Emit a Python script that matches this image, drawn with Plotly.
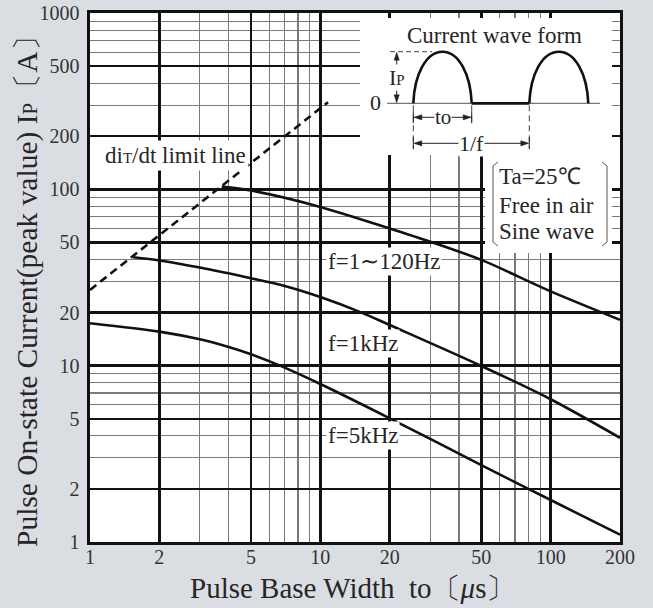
import plotly.graph_objects as go

# ---------------- data ----------------
x_ticks = [1, 2, 5, 10, 20, 50, 100, 200]
x_tick_text = ["1", "2", "5", "10", "20", "50", "100", "200"]
x_minor = [3, 4, 6, 7, 8, 9, 30, 40, 60, 70, 80, 90]
y_ticks = [1, 2, 5, 10, 20, 50, 100, 200, 500, 1000]
y_tick_text = ["1", "2", "5", "10", "20", "50", "100", "200", "500", "1000"]
y_minor = [3, 4, 6, 7, 8, 9, 30, 40, 60, 70, 80, 90, 300, 400, 600, 700, 800, 900]

to_120hz = [3.73, 5, 10, 20, 30, 50, 100, 200]
ip_120hz = [103.6, 98.4, 79.5, 60.0, 50.5, 39.8, 26.4, 18.2]

to_1khz = [1.54, 2, 3, 5, 7, 10, 15.1, 20, 50, 100, 200]
ip_1khz = [41.2, 39.5, 36.0, 31.3, 28.3, 24.5, 20.0, 17.0, 9.96, 6.45, 3.9]

to_5khz = [1, 2, 3, 4, 5, 6.68, 10, 20, 50, 80, 100, 200]
ip_5khz = [17.4, 15.6, 14.1, 12.75, 11.6, 10.0, 7.87, 5.03, 2.73, 2.0, 1.73, 1.1]

to_limit = [1, 10.8]
ip_limit = [26.9, 312]

# ---------------- layout geometry ----------------
FW, FH = 653, 608
L, R, T, B = 90, 620, 13, 542          # plot area in window pixels
W, H = R - L, B - T
SERIF = "Liberation Serif, Times New Roman, serif"
TXT = "#262626"


def px(x):
    return (x - L) / W


def py(y):
    return (B - y) / H


def P(x, y):
    return f"{px(x):.5f},{py(y):.5f}"


fig = go.Figure()

line_style = dict(color="#111111", width=2.6)
for xs, ys in [(to_120hz, ip_120hz), (to_1khz, ip_1khz), (to_5khz, ip_5khz)]:
    fig.add_trace(go.Scatter(x=xs, y=ys, mode="lines",
                             line=dict(**line_style, shape="spline", smoothing=0.8),
                             hoverinfo="skip", showlegend=False))
fig.add_trace(go.Scatter(x=to_limit, y=ip_limit, mode="lines",
                         line=dict(color="#111111", width=2.6, dash="8px,5px"),
                         hoverinfo="skip", showlegend=False))

shapes = []


def seg(x0, y0, x1, y1, width=1.0, color="#222222", dash=None):
    ln = dict(color=color, width=width)
    if dash:
        ln["dash"] = dash
    shapes.append(dict(type="line", xref="paper", yref="paper",
                       x0=px(x0), y0=py(y0), x1=px(x1), y1=py(y1),
                       line=ln, layer="above"))


def path(d, width=1.0, color="#222222", fill=None):
    s = dict(type="path", xref="paper", yref="paper", path=d,
             line=dict(color=color, width=width), layer="above")
    if fill:
        s["fillcolor"] = fill
    shapes.append(s)


def rect_white(x0, y0, x1, y1):
    shapes.append(dict(type="rect", xref="paper", yref="paper",
                       x0=px(x0), y0=py(y1), x1=px(x1), y1=py(y0),
                       fillcolor="white", line=dict(width=0), layer="above"))


def arrow_h(x, y, direction):
    d = f"M{P(x, y)} L{P(x - direction * 8, y - 2.6)} L{P(x - direction * 8, y + 2.6)} Z"
    path(d, width=0.5, fill="#222222")


def arrow_v(x, y, direction):
    d = f"M{P(x, y)} L{P(x - 2.6, y - direction * 8)} L{P(x + 2.6, y - direction * 8)} Z"
    path(d, width=0.5, fill="#222222")


def hump(x0, x1, yb, yp):
    xc = (x0 + x1) / 2
    a = (x1 - x0) / 2
    h = yb - yp
    k = 0.56
    return (f"M{P(x0, yb)} C{P(x0 + 0.04 * a, yb - k * h)} {P(xc - k * a, yp)} {P(xc, yp)} "
            f"C{P(xc + k * a, yp)} {P(x1 - 0.04 * a, yb - k * h)} {P(x1, yb)}")


# white panels for inset and condition box
rect_white(360, 18, 612, 155)
rect_white(485, 155, 612, 253)

# current wave form inset
base_y, peak_y = 103.3, 51.7
h1a, h1b, h2a, h2b = 413.3, 471.7, 529.3, 588.3
seg(387, base_y, 600, base_y, width=1.0, color="#555555")
path(hump(h1a, h1b, base_y, peak_y), width=2.6, color="#111111")
path(hump(h2a, h2b, base_y, peak_y), width=2.6, color="#111111")
seg(h1b, base_y, h2a, base_y, width=2.8, color="#111111")
seg(390, peak_y, 432, peak_y, width=1.0, color="#444444", dash="5px,3px")
seg(396.7, 56, 396.7, 99, width=1.0)
arrow_v(396.7, peak_y + 0.5, -1)
arrow_v(396.7, base_y - 0.5, 1)
seg(h1a, base_y + 2, h1a, 148, width=1.0, color="#444444", dash="6px,4px")
seg(h1b, base_y + 2, h1b, 123, width=1.0, color="#444444", dash="6px,4px")
seg(h2a, base_y + 2, h2a, 148, width=1.0, color="#444444", dash="6px,4px")
to_y = 117.3
seg(h1a, to_y - 6, h1a, to_y + 6, width=1.0)
seg(h1b, to_y - 6, h1b, to_y + 6, width=1.0)
seg(h1a + 2, to_y, h1b - 2, to_y, width=1.0)
arrow_h(h1a + 0.5, to_y, -1)
arrow_h(h1b - 0.5, to_y, 1)
f_y = 143.3
seg(h1a, f_y - 6, h1a, f_y + 6, width=1.0)
seg(h2a, f_y - 6, h2a, f_y + 6, width=1.0)
seg(h1a + 2, f_y, h2a - 2, f_y, width=1.0)
arrow_h(h1a + 0.5, f_y, -1)
arrow_h(h2a - 0.5, f_y, 1)

# brackets for condition box
path(f"M{P(498, 162)} L{P(493, 166)} L{P(493, 242)} L{P(498, 246)}", width=1.0, color="#555555")
path(f"M{P(602, 162)} L{P(607, 166)} L{P(607, 242)} L{P(602, 246)}", width=1.0, color="#555555")

annotations = []


def label(x, y, text, size=22, bg="white", xanchor="center", pad=1, angle=0):
    a = dict(xref="paper", yref="paper", x=px(x), y=py(y), text=text,
             showarrow=False, xanchor=xanchor, yanchor="middle",
             font=dict(family=SERIF, size=size, color=TXT), borderpad=pad,
             textangle=angle)
    if bg:
        a["bgcolor"] = bg
    annotations.append(a)


label(494, 36, "Current wave form", size=23, bg=None)
label(375, 103, "0", size=22, bg=None)
label(397, 77, "I<span style='font-size:15px'>P</span>", size=22, pad=0)
label(442.5, to_y, "to", size=21, pad=0)
label(471.5, f_y, "1/f", size=22, pad=0)

label(498, 177, "Ta=25℃", size=23, bg=None, xanchor="left", pad=0)
label(498, 205, "Free in air", size=23, bg=None, xanchor="left", pad=0)
label(498, 232, "Sine wave", size=23, bg=None, xanchor="left", pad=0)

label(175, 155, "di<span style='font-size:15px'>T</span>/dt limit line", size=23, pad=2)
label(384, 261.5, "f=1∼120Hz", size=23, pad=1)
label(363, 343.5, "f=1kHz", size=23, pad=1)
label(363, 435.7, "f=5kHz", size=23, pad=1)

label(352, 588, "Pulse Base Width  to〔<i>μ</i>s〕", size=29, bg=None, pad=0)
label(27, 284, "Pulse On-state Current(peak value) I<span style='font-size:21px'>P</span>〔A〕",
      size=29.5, bg=None, angle=-90)

axis_common = dict(
    type="log", automargin=False, ticklabeloverflow="allow",
    showgrid=True, gridcolor="#111111", gridwidth=2.4,
    showline=True, linecolor="#111111", linewidth=2.6, mirror=True,
    ticks="", zeroline=False,
    tickfont=dict(family=SERIF, size=20, color="#333333"),
)

fig.update_layout(
    width=FW, height=FH,
    margin=dict(l=L, r=FW - R, t=T, b=FH - B, autoexpand=False),
    paper_bgcolor="#dadee3",
    plot_bgcolor="white",
    showlegend=False,
    xaxis=dict(**axis_common, range=[0, 2.30103], tickmode="array",
               tickvals=x_ticks, ticktext=x_tick_text, ticklabelstandoff=-5,
               minor=dict(tickmode="array", tickvals=x_minor, showgrid=True,
                          gridcolor="#7a7a7a", gridwidth=1.1, ticks="")),
    yaxis=dict(**axis_common, range=[0, 3], tickmode="array",
               tickvals=y_ticks, ticktext=y_tick_text, ticklabelstandoff=4,
               minor=dict(tickmode="array", tickvals=y_minor, showgrid=True,
                          gridcolor="#7a7a7a", gridwidth=1.1, ticks="")),
    shapes=shapes,
    annotations=annotations,
)

fig.write_html("out.html",
               config={"displayModeBar": False, "staticPlot": True},
               post_script="document.body.style.margin='0';"
                           "document.body.style.background='#dadee3';")
